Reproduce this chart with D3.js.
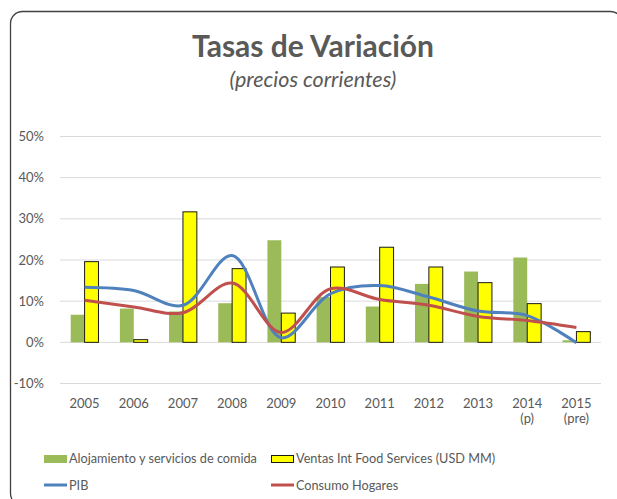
<!DOCTYPE html>
<html><head><meta charset="utf-8">
<script src="https://cdn.jsdelivr.net/npm/d3@7"></script>
<style>body{margin:0;background:#fff}svg{display:block}text{font-family:Lato,"Open Sans",sans-serif}</style>
</head><body><svg id="c" width="617" height="499"></svg>
<script>
const years = ["2005","2006","2007","2008","2009","2010","2011","2012","2013","2014","2015"];
const yearSub = ["","","","","","","","","","(p)","(pre)"];
const alojamiento = [6.7, 8.2, 7.5, 9.5, 24.8, 11.0, 8.7, 14.2, 17.2, 20.6, 0.5];
const ventas = [19.6, 0.65, 31.7, 17.9, 7.1, 18.3, 23.1, 18.3, 14.5, 9.4, 2.6];
const pib = [13.4, 12.6, 9.0, 21.1, 1.1, 11.8, 13.8, 11.0, 7.6, 6.5, -0.1];
const consumo = [10.2, 8.6, 7.2, 14.4, 2.4, 13.0, 10.4, 9.0, 6.3, 5.3, 3.6];
const yTicks = [-10, 0, 10, 20, 30, 40, 50];
const legendItems = ["Alojamiento y servicios de comida","Ventas Int Food Services (USD MM)","PIB","Consumo Hogares"];

const svg = d3.select("#c");
const gray = "#595959";
svg.append("rect").attr("x",10.5).attr("y",11.5).attr("width",612).attr("height",494).attr("rx",12)
  .attr("fill","#fff").attr("stroke","#404040").attr("stroke-width",1.3);

svg.append("text").attr("x",313).attr("y",57).attr("text-anchor","middle").attr("fill",gray)
  .attr("font-size",30).attr("font-weight","bold").text("Tasas de Variación");
svg.append("text").attr("x",313).attr("y",87).attr("text-anchor","middle").attr("fill",gray)
  .attr("font-size",21.5).attr("font-style","italic").text("(precios corrientes)");

const x = d3.scaleBand().domain(years).range([60,601]);
const y = d3.scaleLinear().domain([-10,50]).range([383.5,136.5]);
const xs = d3.scaleBand().domain([0,1]).range([0,x.bandwidth()]).paddingInner(0).paddingOuter(0.77);

// grid
svg.append("g").selectAll("line").data(yTicks).join("line")
  .attr("x1",60).attr("x2",601).attr("y1",d=>y(d)).attr("y2",d=>y(d))
  .attr("stroke","#d9d9d9").attr("stroke-width",1);
svg.append("g").selectAll("text").data(yTicks).join("text")
  .attr("x",44).attr("y",d=>y(d)+4.5).attr("text-anchor","end").attr("fill",gray).attr("font-size",13)
  .text(d=>d+"%");

// x labels (two separate text rows)
svg.append("g").selectAll("text").data(years).join("text")
  .attr("x",d=>x(d)+x.bandwidth()/2).attr("y",408).attr("text-anchor","middle").attr("fill",gray).attr("font-size",13)
  .text(d=>d);
svg.append("g").selectAll("text").data(years.filter((d,i)=>yearSub[i])).join("text")
  .attr("x",d=>x(d)+x.bandwidth()/2).attr("y",423).attr("text-anchor","middle").attr("fill",gray).attr("font-size",13)
  .text(d=>yearSub[years.indexOf(d)]);

// bars
svg.append("g").selectAll("rect").data(alojamiento).join("rect")
  .attr("x",(d,i)=>x(years[i])+xs(0)).attr("width",xs.bandwidth())
  .attr("y",d=>y(Math.max(0,d))).attr("height",d=>Math.abs(y(d)-y(0)))
  .attr("fill","#9BBB59");
svg.append("g").selectAll("rect").data(ventas).join("rect")
  .attr("x",(d,i)=>x(years[i])+xs(1)).attr("width",xs.bandwidth())
  .attr("y",d=>y(Math.max(0,d))).attr("height",d=>Math.abs(y(d)-y(0)))
  .attr("fill","#FFFF00").attr("stroke","#1a1a1a").attr("stroke-width",1);

// lines
const line = d3.line().x((d,i)=>x(years[i])+x.bandwidth()/2).y(d=>y(d)).curve(d3.curveCatmullRom.alpha(0.5));
svg.append("path").datum(pib).attr("d",line).attr("fill","none").attr("stroke","#4F81BD").attr("stroke-width",3);
svg.append("path").datum(consumo).attr("d",line).attr("fill","none").attr("stroke","#C0504D").attr("stroke-width",3);

// legend
const lg = svg.append("g");
const pos = [[44,458],[271,458],[44,485],[271,485]];
lg.append("rect").attr("x",44).attr("y",455).attr("width",23).attr("height",8).attr("fill","#9BBB59");
lg.append("rect").attr("x",271.5).attr("y",455.5).attr("width",22).attr("height",7).attr("fill","#FFFF00").attr("stroke","#1a1a1a");
lg.append("line").attr("x1",44).attr("x2",67).attr("y1",485).attr("y2",485).attr("stroke","#4F81BD").attr("stroke-width",3);
lg.append("line").attr("x1",271).attr("x2",294).attr("y1",485).attr("y2",485).attr("stroke","#C0504D").attr("stroke-width",3);
lg.selectAll("text").data(legendItems).join("text")
  .attr("x",(d,i)=>pos[i][0]+25).attr("y",(d,i)=>pos[i][1]+5).attr("fill",gray).attr("font-size",12.7).text(d=>d);
</script></body></html>
